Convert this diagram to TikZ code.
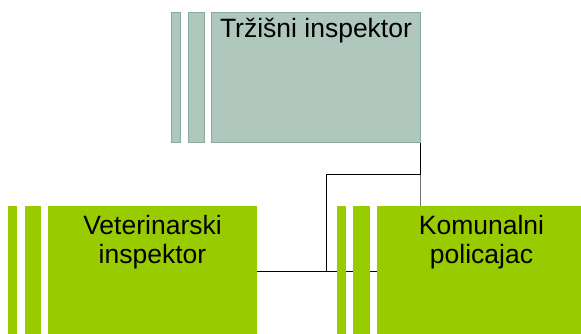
\documentclass[tikz,border=0pt]{standalone}
\usepackage{fontspec}
\setmainfont{Liberation Sans}
\usetikzlibrary{positioning,backgrounds}
\definecolor{sivo}{HTML}{AFC7BD}
\definecolor{sivorub}{HTML}{8AAC9F}
\definecolor{zeleno}{HTML}{99CC00}
\begin{document}
\begin{tikzpicture}[%
            x=1pt, y=1pt,
            mybox/.style={shape=rectangle, inner sep=0pt, minimum width=208.5pt, minimum height=130pt},
            mystripe/.style={shape=rectangle, inner sep=0pt, minimum height=130pt},
            mytext/.style={inner sep=0pt, align=center, font=\fontsize{26.5}{29}\selectfont}
        ]
        \useasboundingbox (0,0) rectangle (581,333);

        \coordinate (T) at (316,256);
        \coordinate (V) at (152.5,62);
        \coordinate (K) at (481.5,62);
        \coordinate (J) at (326,159);

        \begin{scope}[sivorub, fill=sivo, line width=0.8pt]
            \node [mybox, draw, fill=sivo] (trz) at (T) {};
            \node [mystripe, draw, fill=sivo, minimum width=16pt, left=7pt of trz] (trz2) {};
            \node [mystripe, draw, fill=sivo, minimum width=9pt, left=7pt of trz2] (trz1) {};
        \end{scope}
        \node [mytext, below=6pt of trz.north] {Tržišni inspektor};

        \node [mybox, fill=zeleno] (vet) at (V) {};
        \node [mystripe, fill=zeleno, minimum width=16pt, left=7pt of vet] (vet2) {};
        \node [mystripe, fill=zeleno, minimum width=9pt, left=7pt of vet2] (vet1) {};
        \node [mytext, below=9pt of vet.north] {Veterinarski\\inspektor};

        \node [mybox, fill=zeleno] (kom) at (K) {};
        \node [mystripe, fill=zeleno, minimum width=16.5pt, left=7pt of kom] (kom2) {};
        \node [mystripe, fill=zeleno, minimum width=9pt, left=6.5pt of kom2] (kom1) {};
        \node [mytext, below=9pt of kom.north] {Komunalni\\policajac};

        % veze ispod pravokutnika
        \begin{scope}[on background layer, line width=1pt]
            \draw [black!55] (trz.south east) -- (trz.south east |- kom.north);
            \draw (trz.south east) |- (J) |- (vet.east);
            \draw (vet.east) -- (kom.west);
        \end{scope}
    \end{tikzpicture}
\end{document}
